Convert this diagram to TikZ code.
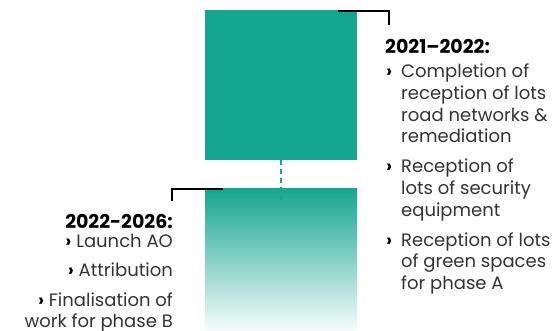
\documentclass[tikz,border=0pt]{standalone}
\usepackage{fontspec}
\setmainfont{Poppins}
\usepackage{xcolor}
\usepackage{tikz}
\usetikzlibrary{positioning}
\definecolor{phaseteal}{HTML}{15A690}
\definecolor{ink}{HTML}{333333}
\tikzset{
  block/.style={rectangle,inner sep=0pt,minimum width=152pt,anchor=north west},
  head/.style={inner sep=0pt,font=\fontsize{19}{21.7}\selectfont\bfseries,text=black},
  item/.style={inner sep=0pt,font=\fontsize{18}{21.7}\selectfont,text=ink},
  chev/.style={inner sep=0pt,font=\fontsize{18}{21.7}\selectfont\bfseries,text=black},
  bracket/.style={line width=2pt,draw=black},
  link/.style={line width=2.5pt,draw=phaseteal,dash pattern=on 5pt off 4pt}
}
\begin{document}
\begin{tikzpicture}[x=1pt,y=-1pt]
\useasboundingbox (0,0) rectangle (558,331);
% the two phases
\node[block,fill=phaseteal,minimum height=150pt] (phaseA) at (205,10) {};
\node[block,top color=phaseteal,bottom color=phaseteal!3,minimum height=143pt] (phaseB) at (205,188) {};
\draw[link] (phaseA.south) -- ([yshift=-12pt]phaseB.north);
% brackets
\coordinate (tickA) at (389,25);
\coordinate (tickB) at (172,201);
\draw[bracket] ([xshift=-19pt,yshift=-1.5pt]phaseA.north east) -| (tickA);
\draw[bracket] ([xshift=18pt,yshift=-1.5pt]phaseB.north west) -| (tickB);
% 2021-2022 (base = last line)
\node[head,anchor=base west] (headA) at (385,53.3) {2021–2022:};
\node[item,anchor=base west,align=left] (a1) at (401,143) {Completion of\\reception of lots\\road networks \&\\remediation};
\node[item,anchor=base west,align=left] (a2) at (401,216.4) {Reception of\\lots of security\\equipment};
\node[item,anchor=base west,align=left] (a3) at (401,289.7) {Reception of lots\\of green spaces\\for phase A};
\node[chev,anchor=base west] (c1) at (386,78) {›};
\node[chev,anchor=base west] (c2) at (386,173) {›};
\node[chev,anchor=base west] (c3) at (386,246.3) {›};
% 2022-2026
\node[head,anchor=base east] (headB) at (173,228.3) {2022-2026:};
\node[item,anchor=base east] (b1) at (173,248) {\textbf{\color{black}›} Launch AO};
\node[item,anchor=base east] (b2) at (173,277) {\textbf{\color{black}›} Attribution};
\node[item,anchor=base east,align=right] (b3) at (173,328) {\textbf{\color{black}›} Finalisation of\\work for phase B};
\end{tikzpicture}
\end{document}
